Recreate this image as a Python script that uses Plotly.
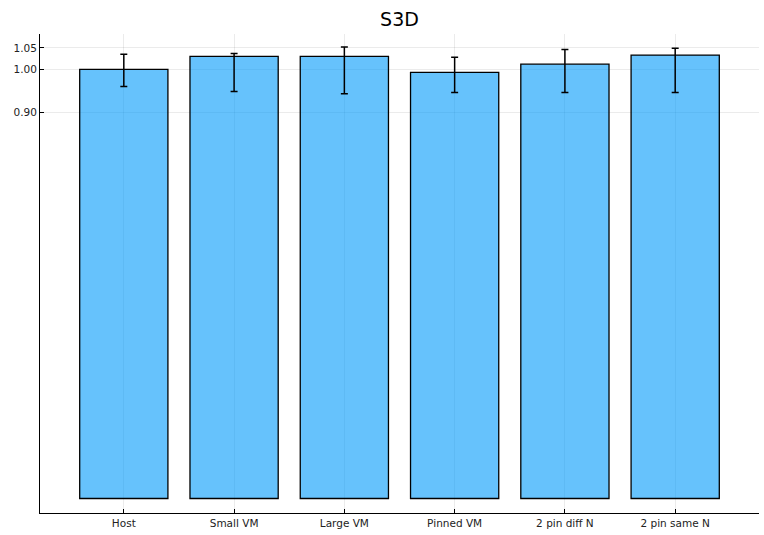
import plotly.graph_objects as go

categories = ["Host", "Small VM", "Large VM", "Pinned VM", "2 pin diff N", "2 pin same N"]
values = [1.000, 1.030, 1.030, 0.993, 1.012, 1.033]
err_plus = [0.035, 0.007, 0.022, 0.035, 0.034, 0.016]
err_minus = [0.040, 0.082, 0.087, 0.047, 0.066, 0.087]
y_ticks = [0.90, 1.00, 1.05]
y_tick_text = ["0.90", "1.00", "1.05"]

fig = go.Figure()
fig.add_trace(go.Bar(
    x=list(range(len(categories))),
    y=values,
    width=0.8,
    marker=dict(color="rgba(0,154,250,0.6)", line=dict(color="black", width=1.3)),
    error_y=dict(type="data", symmetric=False, array=err_plus, arrayminus=err_minus,
                 color="black", thickness=1.5, width=3.5),
    showlegend=False,
))

fig.update_layout(
    width=764, height=535,
    paper_bgcolor="white", plot_bgcolor="white",
    margin=dict(l=40, r=5, t=34, b=22),
    title=dict(text="S3D", x=0.5, xanchor="center", xref="paper", y=1 - 19.5/535, yanchor="middle",
               font=dict(family="DejaVu Sans", size=19, color="black")),
    font=dict(family="DejaVu Sans", size=11, color="#222"),
    bargap=0.2,
)
fig.update_xaxes(
    range=[-0.76, 5.76],
    tickmode="array", tickvals=list(range(len(categories))), ticktext=categories,
    showgrid=True, gridcolor="rgba(0,0,0,0.08)", gridwidth=1,
    showline=True, linecolor="black", linewidth=1,
    ticks="inside", ticklen=4, tickcolor="black",
    zeroline=False, tickfont=dict(size=10.5), automargin=False,
)
fig.update_yaxes(
    range=[-0.0338, 1.0822],
    tickmode="array", tickvals=y_ticks, ticktext=y_tick_text,
    showgrid=True, gridcolor="rgba(0,0,0,0.08)", gridwidth=1,
    showline=True, linecolor="black", linewidth=1,
    ticks="inside", ticklen=4, tickcolor="black",
    zeroline=False, tickfont=dict(size=10.5), automargin=False,
)

fig.write_html("out.html", config={"displayModeBar": False},
               post_script="document.body.style.margin='0';")
